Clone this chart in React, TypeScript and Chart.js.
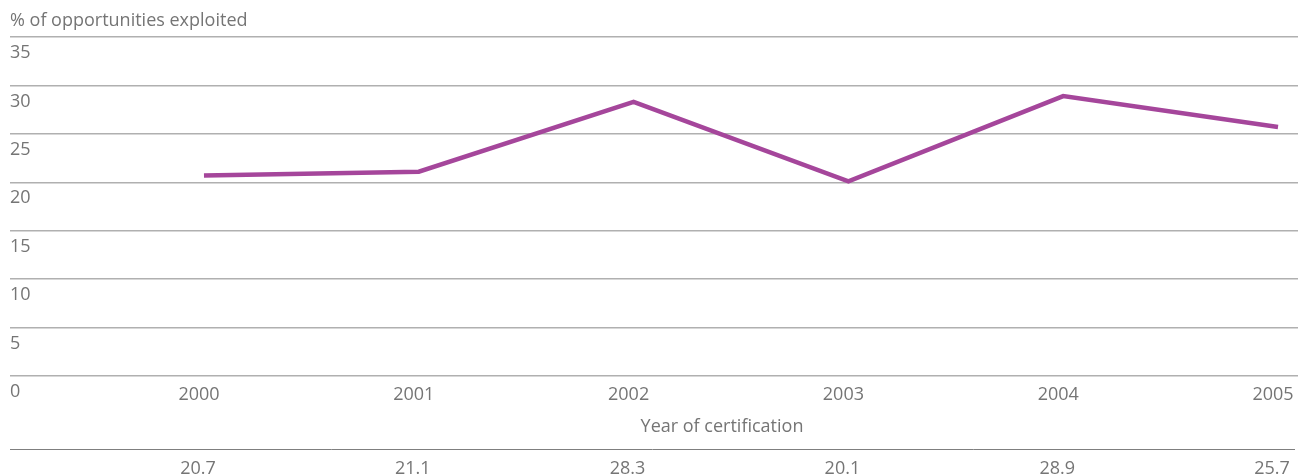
import React, { useEffect, useRef } from "react";
import { Chart, registerables } from "chart.js";

Chart.register(...registerables);

const years = [2000, 2001, 2002, 2003, 2004, 2005];
const exploited = [20.7, 21.1, 28.3, 20.1, 28.9, 25.7];
const tableLabels = ["20.7", "21.1", "28.3", "20.1", "28.9", "25.7"];
const yTitle = "% of opportunities exploited";
const xTitle = "Year of certification";

const FONT = "'Open Sans', 'Noto Sans', sans-serif";
const TEXT = "#757575";

export default function App() {
  const ref = useRef<HTMLCanvasElement | null>(null);

  useEffect(() => {
    if (!ref.current) return;
    const tablePlugin = {
      id: "tablePlugin",
      afterDraw(chart: any) {
        const { ctx, chartArea } = chart;
        const xs = chart.scales.x;
        ctx.save();
        ctx.font = `18px ${FONT}`;
        ctx.fillStyle = TEXT;
        ctx.textAlign = "center";
        ctx.textBaseline = "middle";
        ctx.fillText(xTitle, (chartArea.left + chartArea.right) / 2 + 68, 427);
        ctx.strokeStyle = "#7f7f7f";
        ctx.lineWidth = 1;
        ctx.beginPath();
        ctx.moveTo(chartArea.left, xs.bottom + 0.5);
        ctx.lineTo(chartArea.right - 3, xs.bottom + 0.5);
        ctx.stroke();
        years.forEach((yr, i) => {
          ctx.fillText(tableLabels[i], xs.getPixelForValue(yr) - 6, 469);
        });
        ctx.restore();
      },
    };

    const chart = new Chart(ref.current, {
      type: "line",
      data: {
        datasets: [
          {
            data: years.map((x, i) => ({ x, y: exploited[i] })),
            borderColor: "#a5469b",
            borderWidth: 4.5,
            pointRadius: 0,
            tension: 0,
            fill: false,
          },
        ],
      },
      options: {
        animation: false,
        responsive: false,
        layout: { padding: { top: 0, left: 10, right: 0, bottom: 26 } },
        plugins: {
          legend: { display: false },
          tooltip: { enabled: false },
          title: {
            display: true,
            text: yTitle,
            align: "start",
            color: TEXT,
            font: { family: FONT, size: 18, weight: "normal", lineHeight: 1.2 },
            padding: { top: 10.5, bottom: 4.9 },
          },
        },
        scales: {
          x: {
            type: "linear",
            min: 1999.097,
            max: 2005.093,
            afterFit: (s: any) => {
              s.height = 73;
              s.paddingLeft = 0;
              s.paddingRight = 0;
            },
            grid: { display: false },
            border: { display: false },
            ticks: {
              stepSize: 1,
              includeBounds: false,
              autoSkip: false,
              maxRotation: 0,
              padding: 0,
              labelOffset: -5,
              color: TEXT,
              font: { family: FONT, size: 18 },
              callback: (v: any) => String(v),
            },
          },
          y: {
            min: 0,
            max: 35,
            afterFit: (s: any) => {
              s.paddingTop = 0;
              s.paddingBottom = 0;
            },
            grid: { color: "#b0b0b0", lineWidth: 1.5, drawTicks: false },
            border: { display: false },
            ticks: {
              stepSize: 5,
              mirror: true,
              padding: 0,
              labelOffset: 16,
              color: TEXT,
              font: { family: FONT, size: 18 },
            },
          },
        },
      },
      plugins: [tablePlugin],
    });
    return () => chart.destroy();
  }, []);

  return (
    <div style={{ position: "absolute", left: 0, top: 0, width: 1298, height: 475 }}>
      <canvas ref={ref} width={1298} height={475} />
    </div>
  );
}
